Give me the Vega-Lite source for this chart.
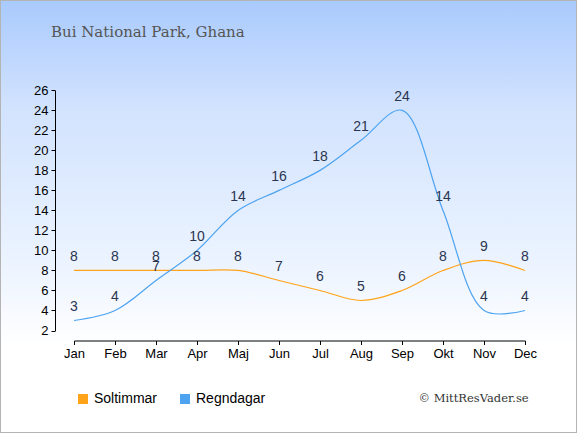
{
  "$schema": "https://vega.github.io/schema/vega-lite/v6.json",
  "width": 577,
  "height": 433,
  "autosize": "none",
  "padding": 0,
  "background": "#ffffff",
  "view": {
    "fill": {
      "gradient": "linear",
      "x1": 0, "y1": 0, "x2": 0, "y2": 1,
      "stops": [
        {"offset": 0, "color": "#a9cafd"},
        {"offset": 0.25, "color": "#d2e3fe"},
        {"offset": 0.6, "color": "#ebf3ff"},
        {"offset": 0.8, "color": "#ffffff"},
        {"offset": 1, "color": "#ffffff"}
      ]
    },
    "stroke": "#b4b4b4",
    "strokeWidth": 2
  },
  "title": {
    "text": "Bui National Park, Ghana",
    "orient": "top",
    "anchor": "start",
    "frame": "group",
    "offset": -52,
    "dx": 51,
    "baseline": "alphabetic",
    "font": "DejaVu Serif",
    "fontSize": 15,
    "fontWeight": "normal",
    "color": "#555555"
  },
  "data": {
    "values": [
      {"month": "Jan", "series": "Soltimmar", "value": 8},
      {"month": "Feb", "series": "Soltimmar", "value": 8},
      {"month": "Mar", "series": "Soltimmar", "value": 8},
      {"month": "Apr", "series": "Soltimmar", "value": 8},
      {"month": "Maj", "series": "Soltimmar", "value": 8},
      {"month": "Jun", "series": "Soltimmar", "value": 7},
      {"month": "Jul", "series": "Soltimmar", "value": 6},
      {"month": "Aug", "series": "Soltimmar", "value": 5},
      {"month": "Sep", "series": "Soltimmar", "value": 6},
      {"month": "Okt", "series": "Soltimmar", "value": 8},
      {"month": "Nov", "series": "Soltimmar", "value": 9},
      {"month": "Dec", "series": "Soltimmar", "value": 8},
      {"month": "Jan", "series": "Regndagar", "value": 3},
      {"month": "Feb", "series": "Regndagar", "value": 4},
      {"month": "Mar", "series": "Regndagar", "value": 7},
      {"month": "Apr", "series": "Regndagar", "value": 10},
      {"month": "Maj", "series": "Regndagar", "value": 14},
      {"month": "Jun", "series": "Regndagar", "value": 16},
      {"month": "Jul", "series": "Regndagar", "value": 18},
      {"month": "Aug", "series": "Regndagar", "value": 21},
      {"month": "Sep", "series": "Regndagar", "value": 24},
      {"month": "Okt", "series": "Regndagar", "value": 14},
      {"month": "Nov", "series": "Regndagar", "value": 4},
      {"month": "Dec", "series": "Regndagar", "value": 4}
    ]
  },
  "encoding": {
    "x": {
      "field": "month",
      "type": "ordinal",
      "sort": ["Jan","Feb","Mar","Apr","Maj","Jun","Jul","Aug","Sep","Okt","Nov","Dec"],
      "scale": {"type": "point", "range": [74, 525], "padding": 0},
      "axis": {
        "orient": "bottom",
        "offset": -92.5,
        "labelAngle": 0,
        "labelFont": "Liberation Sans",
        "labelFontSize": 13,
        "labelColor": "#000000",
        "labelPadding": 3,
        "tickSize": 4,
        "tickColor": "#000000",
        "domainColor": "#000000",
        "grid": false,
        "title": "© MittResVader.se",
        "titleX": 418,
        "titleY": 61,
        "titleAlign": "left",
        "titleBaseline": "alphabetic",
        "titleFont": "DejaVu Serif",
        "titleFontSize": 11.5,
        "titleFontWeight": "normal",
        "titleColor": "#333333"
      }
    },
    "y": {
      "field": "value",
      "type": "quantitative",
      "scale": {"domain": [2, 26], "range": [330.5, 90.3], "nice": false, "zero": false},
      "axis": {
        "orient": "left",
        "offset": -55,
        "values": [2,4,6,8,10,12,14,16,18,20,22,24,26],
        "labelFont": "Liberation Sans",
        "labelFontSize": 13,
        "labelColor": "#000000",
        "labelPadding": 3,
        "tickSize": 4,
        "tickColor": "#000000",
        "domainColor": "#000000",
        "grid": false,
        "title": null
      }
    }
  },
  "layer": [
    {
      "mark": {"type": "line", "interpolate": "catmull-rom", "strokeWidth": 1.2},
      "encoding": {
        "color": {
          "field": "series",
          "type": "nominal",
          "scale": {"domain": ["Soltimmar", "Regndagar"], "range": ["#ffa31a", "#4da3f0"]},
          "legend": {
            "orient": "none",
            "legendX": 76,
            "legendY": 392,
            "direction": "horizontal",
            "title": null,
            "symbolType": "square",
            "symbolSize": 100,
            "symbolStrokeWidth": 0,
            "labelFont": "Liberation Sans",
            "labelFontSize": 14,
            "labelColor": "#000000",
            "labelOffset": 4,
            "columnPadding": 20,
            "padding": 0,
            "encode": {
              "symbols": {
                "update": {
                  "fill": {"scale": "color", "field": "value"},
                  "strokeWidth": {"value": 0}
                }
              }
            }
          }
        }
      }
    },
    {
      "mark": {
        "type": "text",
        "baseline": "middle",
        "align": "center",
        "dy": -13,
        "font": "Liberation Sans",
        "fontSize": 14,
        "color": "#2b3550"
      },
      "encoding": {
        "text": {"field": "value", "type": "quantitative"}
      }
    }
  ]
}
